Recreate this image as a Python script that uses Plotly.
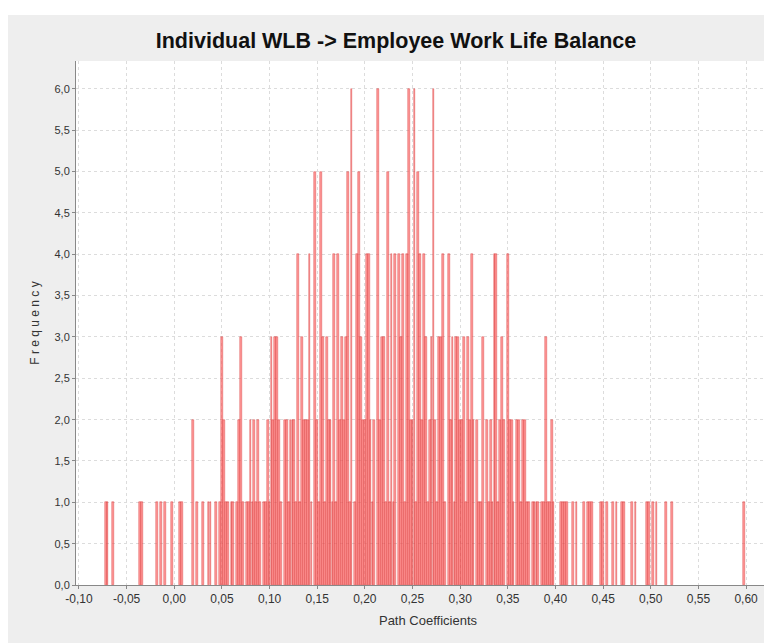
import plotly.graph_objects as go

# Bootstrap path coefficients (bin centres) grouped by their frequency
coef_freq6 = [0.186, 0.214, 0.246, 0.252, 0.272]
coef_freq5 = [0.148, 0.154, 0.182, 0.194, 0.224, 0.256]
coef_freq4 = [0.130, 0.142, 0.168, 0.172, 0.192, 0.202, 0.204, 0.228, 0.232, 0.236,
              0.240, 0.244, 0.258, 0.262, 0.282, 0.288, 0.312, 0.336, 0.338, 0.350]
coef_freq3 = [0.050, 0.070, 0.102, 0.106, 0.108, 0.134, 0.156, 0.160, 0.176, 0.180,
              0.196, 0.218, 0.220, 0.238, 0.264, 0.270, 0.278, 0.280, 0.292, 0.296,
              0.298, 0.304, 0.308, 0.324, 0.344, 0.390]
coef_freq2 = [0.020, 0.052, 0.068, 0.080, 0.084, 0.088, 0.098, 0.104, 0.110, 0.116,
              0.118, 0.122, 0.124, 0.126, 0.136, 0.138, 0.140, 0.150, 0.162, 0.164,
              0.174, 0.178, 0.198, 0.200, 0.206, 0.210, 0.216, 0.248, 0.250, 0.260,
              0.268, 0.274, 0.290, 0.300, 0.302, 0.310, 0.314, 0.318, 0.328, 0.332,
              0.342, 0.346, 0.352, 0.354, 0.360, 0.362, 0.366, 0.368, 0.396]
coef_freq1_left = [-0.072, -0.070, -0.064, -0.036, -0.034, -0.018, -0.014, -0.010,
                   -0.002, 0.006, 0.008, 0.024, 0.030, 0.036, 0.038, 0.044, 0.048]
coef_freq1_core = [0.054, 0.056, 0.060, 0.062, 0.066, 0.072, 0.076, 0.078, 0.082,
                   0.086, 0.090, 0.094, 0.096, 0.100, 0.112, 0.120, 0.128, 0.132,
                   0.144, 0.152, 0.158, 0.166, 0.170, 0.184, 0.190, 0.208, 0.222,
                   0.226, 0.230, 0.242, 0.254, 0.266, 0.276, 0.284, 0.294, 0.306,
                   0.320, 0.322, 0.330, 0.334, 0.340, 0.356, 0.364, 0.370, 0.372,
                   0.376, 0.378, 0.380, 0.382, 0.386, 0.388, 0.392, 0.394, 0.398]
coef_freq1_right = [0.406, 0.408, 0.410, 0.412, 0.418, 0.422, 0.430, 0.434, 0.436,
                    0.438, 0.448, 0.450, 0.454, 0.460, 0.464, 0.470, 0.472, 0.480,
                    0.484, 0.496, 0.498, 0.502, 0.506, 0.516, 0.522, 0.598]

x_tick_vals = [-0.10, -0.05, 0.00, 0.05, 0.10, 0.15, 0.20, 0.25, 0.30, 0.35, 0.40,
               0.45, 0.50, 0.55, 0.60]
x_tick_text = ["-0,10", "-0,05", "0,00", "0,05", "0,10", "0,15", "0,20", "0,25",
               "0,30", "0,35", "0,40", "0,45", "0,50", "0,55", "0,60"]
y_tick_vals = [0.0, 0.5, 1.0, 1.5, 2.0, 2.5, 3.0, 3.5, 4.0, 4.5, 5.0, 5.5, 6.0]
y_tick_text = ["0,0", "0,5", "1,0", "1,5", "2,0", "2,5", "3,0", "3,5", "4,0", "4,5",
               "5,0", "5,5", "6,0"]

groups = [(coef_freq6, 6), (coef_freq5, 5), (coef_freq4, 4), (coef_freq3, 3),
          (coef_freq2, 2), (coef_freq1_left, 1), (coef_freq1_core, 1),
          (coef_freq1_right, 1)]
xs, ys = [], []
for coefs, f in groups:
    for c in coefs:
        xs.append(c)
        ys.append(f)

fig = go.Figure()
fig.add_trace(go.Bar(
    x=xs, y=ys, width=0.0019,
    marker=dict(color="rgba(255,90,90,0.62)",
                line=dict(color="rgba(215,60,60,0.85)", width=0.5)),
    showlegend=False, hoverinfo="x+y",
))

# the page adds an 8px body margin, so figure coords = page coords - 8;
# the plot area runs past the right edge of the window, as in the reference
W, H = 772, 643
L, R, T, B = 68, 0, 53, 66
PW, PH = W - L - R, H - T - B

fig.update_layout(
    width=W, height=H,
    margin=dict(l=L, r=R, t=T, b=B, autoexpand=False),
    paper_bgcolor="#eeeeee",
    plot_bgcolor="white",
    bargap=0,
    font=dict(family="Liberation Sans, Arial, sans-serif", color="#333333", size=12),
    title=dict(text="<b>Individual WLB -> Employee Work Life Balance</b>",
               x=388 / W, xref="container", xanchor="center",
               y=1 - 32 / H, yref="container", yanchor="middle",
               font=dict(family="Liberation Sans Narrow, Arial Narrow, Liberation Sans, sans-serif",
                         size=21.5, color="#111111")),
    xaxis=dict(range=[-0.1031, 0.6356], tickvals=x_tick_vals, ticktext=x_tick_text,
               automargin=False,
               showgrid=True, gridcolor="#dcdcdc", griddash="dot", gridwidth=1,
               showline=True, linecolor="#888888", linewidth=1,
               ticks="outside", ticklen=3, tickcolor="#888888",
               tickfont=dict(size=12, color="#333333"), zeroline=False,
               title=dict(text="Path Coefficients", standoff=10,
                          font=dict(size=13, color="#333333"))),
    yaxis=dict(range=[0, 6.338], tickvals=y_tick_vals, ticktext=y_tick_text,
               automargin=False,
               showgrid=True, gridcolor="#dcdcdc", griddash="dot", gridwidth=1,
               showline=True, linecolor="#888888", linewidth=1,
               ticks="outside", ticklen=3, tickcolor="#888888",
               tickfont=dict(size=11, color="#333333"), zeroline=False,
               title=dict(text="F r e q u e n c y", standoff=12,
                          font=dict(size=12, color="#333333"))),
)

# thin white strip above the grey frame, as in the reference screenshot
fig.add_shape(type="rect", xref="paper", yref="paper", layer="below",
              x0=-L / PW, x1=1.02, y0=1 + (T - 7) / PH, y1=1 + T / PH,
              fillcolor="white", line=dict(width=0))

fig.write_html("out.html")
